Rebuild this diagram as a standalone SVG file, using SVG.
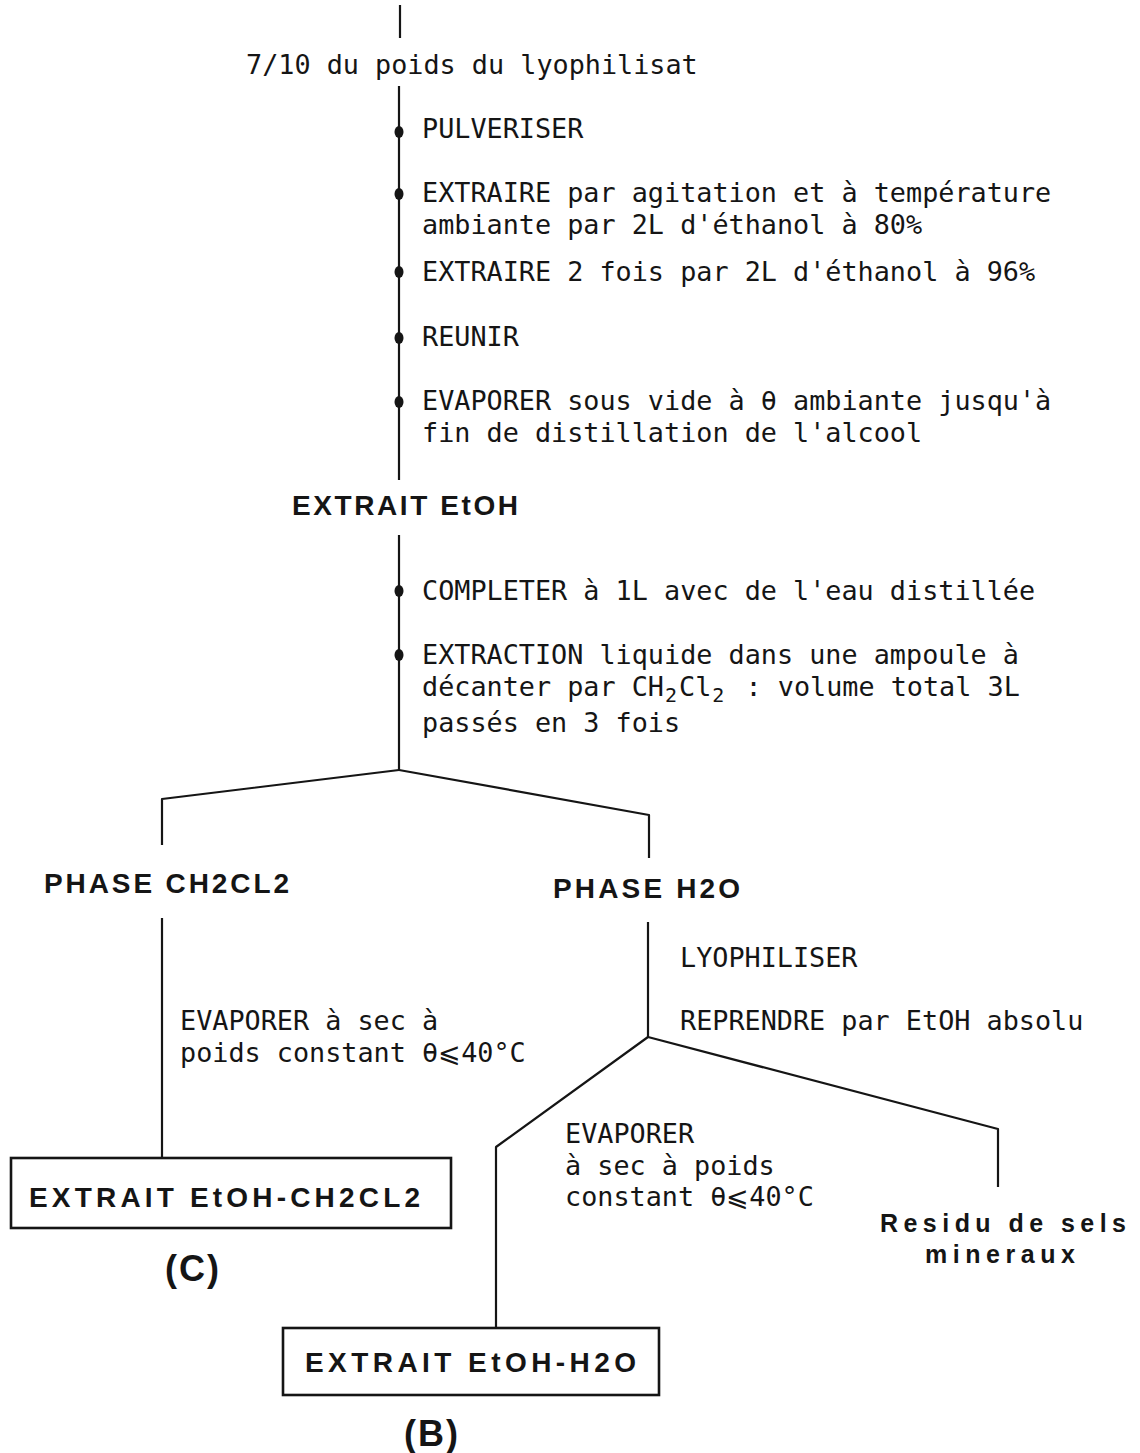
<svg xmlns="http://www.w3.org/2000/svg" width="1140" height="1453" viewBox="0 0 1140 1453">
<style>
.m{font-family:"DejaVu Sans Mono","Liberation Mono",monospace;font-size:26.8px;fill:#151515}
.sub{font-size:20px}
.b{font-family:"Liberation Sans",Arial,sans-serif;font-weight:bold;font-size:28px;fill:#151515}
.p{font-size:36px;letter-spacing:2px}
.ln{fill:none;stroke:#151515;stroke-width:2.2;stroke-linejoin:round}
.box{fill:#fff;stroke:#151515;stroke-width:2.6}
.dot{fill:#151515}
</style>
<rect width="1140" height="1453" fill="#fff"/>
<g id="connectors">
<path class="ln" d="M400,5 V38"/>
<path class="ln" d="M399,86 V480"/>
<path class="ln" d="M399,535 V770"/>
<path class="ln" d="M399,770 L162,799 V845"/>
<path class="ln" d="M399,770 L649,815 V858"/>
<path class="ln" d="M162,918 V1158"/>
<path class="ln" d="M648,922 V1037"/>
<path class="ln" d="M648,1037 L496,1147 V1328"/>
<path class="ln" d="M648,1037 L998,1129 V1187"/>
<ellipse class="dot" cx="399" cy="132" rx="4.5" ry="6"/>
<ellipse class="dot" cx="399" cy="194" rx="4.5" ry="6"/>
<ellipse class="dot" cx="399" cy="272" rx="4.5" ry="6"/>
<ellipse class="dot" cx="399" cy="338" rx="4.5" ry="6"/>
<ellipse class="dot" cx="399" cy="402" rx="4.5" ry="6"/>
<ellipse class="dot" cx="399" cy="591" rx="4.5" ry="6"/>
<ellipse class="dot" cx="399" cy="655" rx="4.5" ry="6"/>
</g>
<g id="start"><text class="m" x="246" y="74">7/10 du poids du lyophilisat</text></g>
<g id="steps1">
<text class="m" x="422" y="138">PULVERISER</text>
<text class="m" x="422" y="202">EXTRAIRE par agitation et à température</text>
<text class="m" x="422" y="234">ambiante par 2L d'éthanol à 80%</text>
<text class="m" x="422" y="281">EXTRAIRE 2 fois par 2L d'éthanol à 96%</text>
<text class="m" x="422" y="346">REUNIR</text>
<text class="m" x="422" y="410">EVAPORER sous vide à θ ambiante jusqu'à</text>
<text class="m" x="422" y="442">fin de distillation de l'alcool</text>
</g>
<g id="extrait-etoh"><text class="b" x="292" y="515" textLength="226" lengthAdjust="spacing">EXTRAIT EtOH</text></g>
<g id="steps2">
<text class="m" x="422" y="664">EXTRACTION liquide dans une ampoule à</text>
<text class="m" x="422" y="600">COMPLETER à 1L avec de l'eau distillée</text>
<text class="m" x="422" y="696">décanter par CH<tspan class="sub" dy="6" dx="1">2</tspan><tspan dy="-6" dx="2">Cl</tspan><tspan class="sub" dy="6" dx="1">2</tspan><tspan dy="-6" dx="5"> : volume total 3L</tspan></text>
<text class="m" x="422" y="732">passés en 3 fois</text>
</g>
<g id="phase-ch2cl2"><text class="b" x="44" y="893" textLength="245" lengthAdjust="spacing">PHASE CH2CL2</text></g>
<g id="phase-h2o"><text class="b" x="553" y="898" textLength="187" lengthAdjust="spacing">PHASE H2O</text></g>
<g id="step-left">
<text class="m" x="180" y="1030">EVAPORER à sec à</text>
<text class="m" x="180" y="1062">poids constant θ⩽40°C</text>
</g>
<g id="step-right">
<text class="m" x="680" y="967">LYOPHILISER</text>
<text class="m" x="680" y="1030">REPRENDRE par EtOH absolu</text>
</g>
<g id="step-evap">
<text class="m" x="565" y="1143">EVAPORER</text>
<text class="m" x="565" y="1175">à sec à poids</text>
<text class="m" x="565" y="1206">constant θ⩽40°C</text>
</g>
<g id="extrait-c">
<rect class="box" x="11" y="1158" width="440" height="70"/>
<text class="b" x="29" y="1207" textLength="391" lengthAdjust="spacing">EXTRAIT EtOH-CH2CL2</text>
<text class="b p" x="165" y="1281">(C)</text>
</g>
<g id="residu">
<text class="b" x="880" y="1232" style="font-size:25px" textLength="246" lengthAdjust="spacing">Residu de sels</text>
<text class="b" x="925" y="1263" style="font-size:25px" textLength="150" lengthAdjust="spacing">mineraux</text>
</g>
<g id="extrait-b">
<rect class="box" x="283" y="1328" width="376" height="67"/>
<text class="b" x="305" y="1372" textLength="331" lengthAdjust="spacing">EXTRAIT EtOH-H2O</text>
<text class="b p" x="404" y="1446">(B)</text>
</g>
</svg>
